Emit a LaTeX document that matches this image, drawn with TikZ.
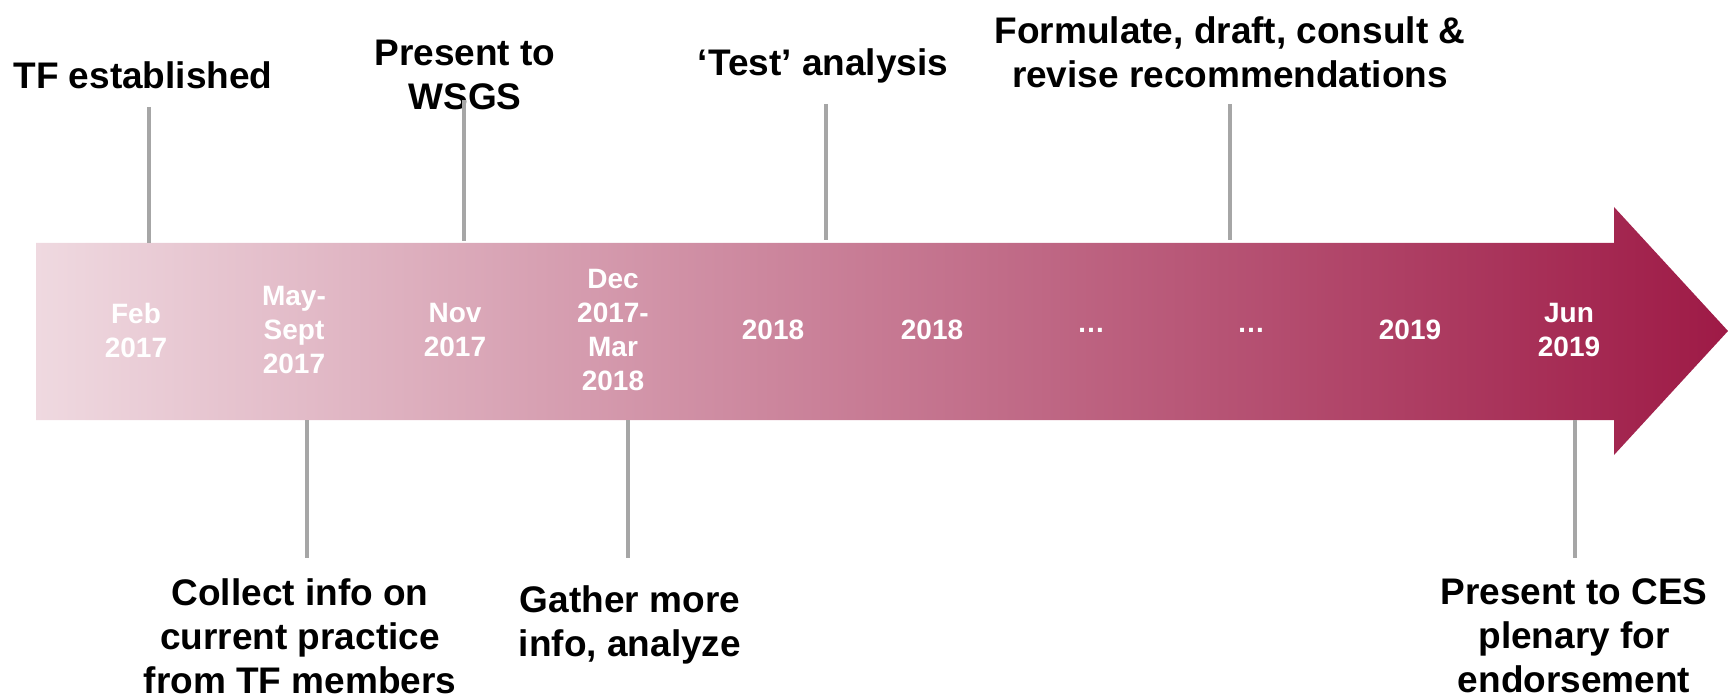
\documentclass[tikz,border=0pt]{standalone}
\usepackage{fontspec}
\setmainfont{Liberation Sans}
\definecolor{lightend}{HTML}{EFD9E0}
\definecolor{darkend}{HTML}{9E1A46}
\definecolor{tickgray}{HTML}{A6A6A6}
\begin{document}
\begin{tikzpicture}[x=0.5pt,y=-0.5pt,
  lbl/.style={align=center,inner sep=0pt,text=black,font=\bfseries\fontsize{18.5}{22}\selectfont},
  datelbl/.style={align=center,inner sep=0pt,text=white,font=\bfseries\fontsize{14}{17}\selectfont},
  tick/.style={draw=tickgray,line width=2pt}]
\useasboundingbox (0,0) rectangle (1728,700);
% arrow
\shade[left color=lightend,right color=darkend]
  (36,243) -- (1614,243) -- (1614,207) -- (1728,331) -- (1614,455) -- (1614,420) -- (36,420) -- cycle;
% dates
\node[datelbl] (d1) at (136,330) {Feb\\2017};
\node[datelbl] (d2) at (294,330) {May-\\Sept\\2017};
\node[datelbl] (d3) at (455,330) {Nov\\2017};
\node[datelbl] (d4) at (613,330) {Dec\\2017-\\Mar\\2018};
\node[datelbl] (d5) at (773,330) {2018};
\node[datelbl] (d6) at (932,330) {2018};
\node[datelbl] (d7) at (1091,330) {…};
\node[datelbl] (d8) at (1251,330) {…};
\node[datelbl] (d9) at (1410,330) {2019};
\node[datelbl] (d10) at (1569,330) {Jun\\2019};
% top labels
\node[lbl] (t1) at (143,75) {TF established};
\node[lbl] (t2) at (465,75) {Present to\\WSGS};
\node[lbl] (t3) at (823,66) {‘Test’ analysis};
\node[lbl] (t4) at (1230,52) {Formulate, draft, consult \&\\revise recommendations};
% bottom labels
\node[lbl] (b1) at (300,636) {Collect info on\\current practice\\from TF members};
\node[lbl] (b2) at (630,625) {Gather more\\info, analyze};
\node[lbl] (b3) at (1574,636) {Present to CES\\plenary for\\endorsement};
% tick coordinates
\coordinate (t1a) at (149,107); \coordinate (t1b) at (149,243);
\coordinate (t2a) at (464,100); \coordinate (t2b) at (464,241);
\coordinate (t3a) at (826,104); \coordinate (t3b) at (826,240);
\coordinate (t4a) at (1230,104); \coordinate (t4b) at (1230,240);
\coordinate (b1a) at (307,420); \coordinate (b1b) at (307,558);
\coordinate (b2a) at (628,420); \coordinate (b2b) at (628,558);
\coordinate (b3a) at (1575,420); \coordinate (b3b) at (1575,558);
\draw[tick] (t1a) -- (t1b);
\draw[tick] (t2a) -- (t2b);
\draw[tick] (t3a) -- (t3b);
\draw[tick] (t4a) -- (t4b);
\draw[tick] (b1a) -- (b1b);
\draw[tick] (b2a) -- (b2b);
\draw[tick] (b3a) -- (b3b);
\end{tikzpicture}
\end{document}
